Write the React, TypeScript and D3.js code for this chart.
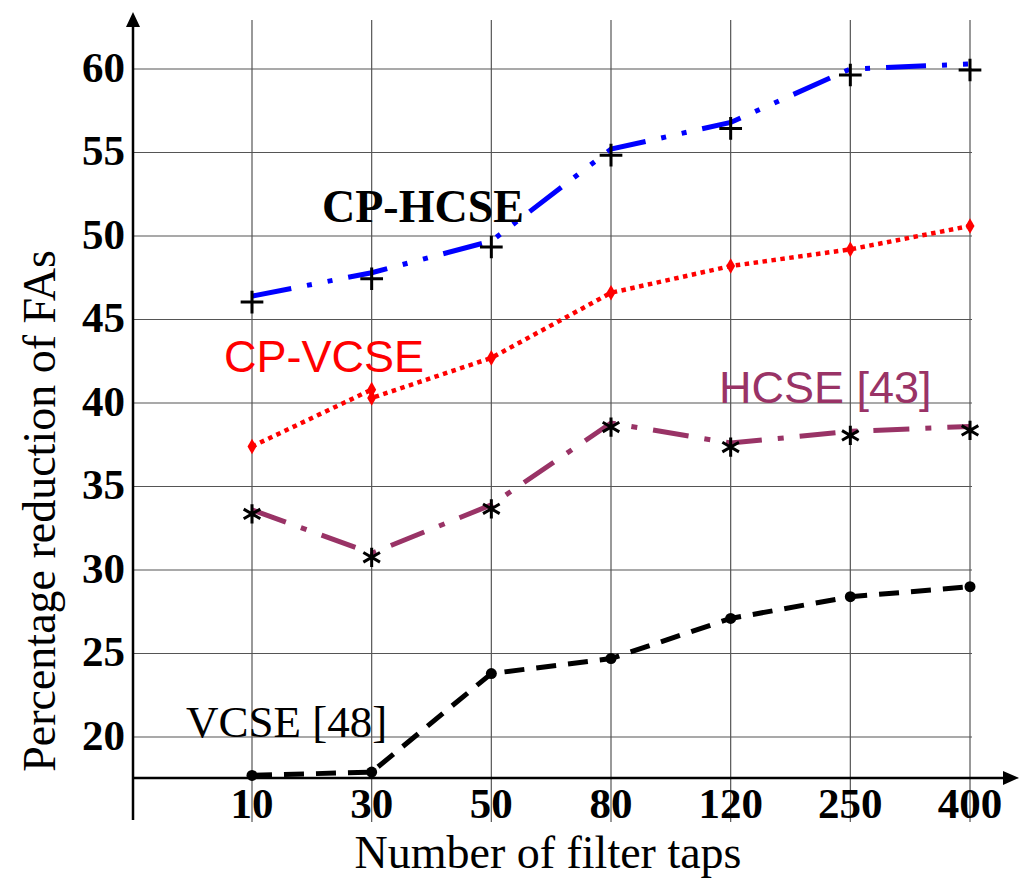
import React from 'react';
import * as d3 from 'd3';

// x categories (number of filter taps) and y ticks
const taps = ['10', '30', '50', '80', '120', '250', '400'];
const yTicks = [20, 25, 30, 35, 40, 45, 50, 55, 60];

// series values (percentage reduction of FAs)
const cpHcse = [46.4, 47.8, 49.7, 55.2, 56.8, 60.0, 60.3];
const cpVcseTaps = ['10', '30', '30', '50', '80', '120', '250', '400'];
const cpVcse = [37.4, 40.8, 40.3, 42.7, 46.6, 48.2, 49.2, 50.6];
const hcse = [33.6, 31.0, 33.9, 38.8, 37.6, 38.3, 38.6];
const vcse = [17.7, 17.9, 23.8, 24.7, 27.1, 28.4, 29.0];

const serif = "'Liberation Serif', 'Times New Roman', serif";
const sans = "'Liberation Sans', Arial, sans-serif";
const plum = '#993366';

const App = () => {
  const width = 1021;
  const height = 878;

  const x = d3.scalePoint<string>().domain(taps).range([252, 970]);
  const y = d3.scaleLinear().domain([20, 60]).range([737, 69]);
  const axisLeft = 133;
  const axisBottom = y(17.55);
  const gridRight = 972;

  const line = d3
    .line<[string, number]>()
    .x((d) => x(d[0]) as number)
    .y((d) => y(d[1]));

  const blueData = taps.map((t, i) => [t, cpHcse[i]] as [string, number]);
  const redData = cpVcseTaps.map((t, i) => [t, cpVcse[i]] as [string, number]);
  const plumData = taps.map((t, i) => [t, hcse[i]] as [string, number]);
  const blackData = taps.map((t, i) => [t, vcse[i]] as [string, number]);

  const plus = d3.symbol().type(d3.symbolPlus).size(170)();
  const star = d3.symbol().type(d3.symbolAsterisk).size(260)();
  const diamond = d3.symbol().type(d3.symbolDiamond).size(70)();

  return (
    <svg
      width={width}
      height={height}
      style={{ position: 'absolute', left: 0, top: 0, background: '#fff' }}
    >
      {/* grid */}
      <g stroke="#555" strokeWidth={1.2}>
        {yTicks.map((t) => (
          <line key={'h' + t} x1={axisLeft} x2={gridRight} y1={y(t)} y2={y(t)} />
        ))}
        {taps.map((t) => (
          <line key={'v' + t} x1={x(t)} x2={x(t)} y1={20} y2={822} />
        ))}
      </g>

      {/* axes */}
      <g stroke="#000" strokeWidth={2.5}>
        <line x1={axisLeft} x2={axisLeft} y1={24} y2={820} />
        <line x1={axisLeft} x2={1006} y1={axisBottom} y2={axisBottom} />
      </g>
      <path d={`M${axisLeft},12 L${axisLeft - 7},27 L${axisLeft + 7},27 Z`} fill="#000" />
      <path d={`M1019,${axisBottom} L1003,${axisBottom - 7} L1003,${axisBottom + 7} Z`} fill="#000" />

      {/* y tick labels */}
      <g fontFamily={serif} fontWeight="bold" fontSize={43} textAnchor="end">
        {yTicks.map((t) => (
          <text key={t} x={125} y={y(t)} dy="0.3em">
            {t}
          </text>
        ))}
      </g>

      {/* x tick labels */}
      <g fontFamily={serif} fontWeight="bold" fontSize={43} textAnchor="middle">
        {taps.map((t) => (
          <text key={t} x={x(t)} y={818}>
            {t}
          </text>
        ))}
      </g>

      {/* axis titles */}
      <text x={548} y={868} fontFamily={serif} fontSize={46} textAnchor="middle">
        Number of filter taps
      </text>
      <text
        transform="translate(55,511) rotate(-90)"
        fontFamily={serif}
        fontSize={46}
        textAnchor="middle"
      >
        Percentage reduction of FAs
      </text>

      {/* VCSE [48] */}
      <path d={line(blackData) as string} fill="none" stroke="#000" strokeWidth={5} strokeDasharray="20 12" />
      {blackData.map((d, i) => (
        <circle key={i} cx={x(d[0])} cy={y(d[1])} r={5.5} fill="#000" />
      ))}

      {/* HCSE [43] */}
      <path d={line(plumData) as string} fill="none" stroke={plum} strokeWidth={5} strokeDasharray="36 16 6 16" />
      {plumData.map((d, i) => (
        <path
          key={i}
          d={star as string}
          transform={`translate(${x(d[0])},${y(d[1]) + 4})`}
          fill="none"
          stroke="#000"
          strokeWidth={3}
        />
      ))}

      {/* CP-VCSE */}
      <path d={line(redData) as string} fill="none" stroke="#f00" strokeWidth={4.5} strokeDasharray="4.5 4.5" />
      {redData.map((d, i) => (
        <path key={i} d={diamond as string} transform={`translate(${x(d[0])},${y(d[1])})`} fill="#f00" />
      ))}

      {/* CP-HCSE */}
      <path d={line(blueData) as string} fill="none" stroke="#00f" strokeWidth={5} strokeDasharray="40 16 5 16 5 16" />
      {blueData.map((d, i) => (
        <path
          key={i}
          d={plus as string}
          transform={`translate(${x(d[0])},${y(d[1]) + 6})`}
          fill="none"
          stroke="#000"
          strokeWidth={3}
        />
      ))}

      {/* series labels */}
      <text x={322} y={222} fontFamily={serif} fontWeight="bold" fontSize={46} fill="#000">
        CP-HCSE
      </text>
      <text x={224} y={372} fontFamily={sans} fontSize={45} fill="#f00">
        CP-VCSE
      </text>
      <text x={719} y={403} fontFamily={sans} fontSize={45} fill={plum}>
        HCSE [43]
      </text>
      <text x={186} y={737} fontFamily={serif} fontSize={45} fill="#000">
        VCSE [48]
      </text>
    </svg>
  );
};

export default App;
